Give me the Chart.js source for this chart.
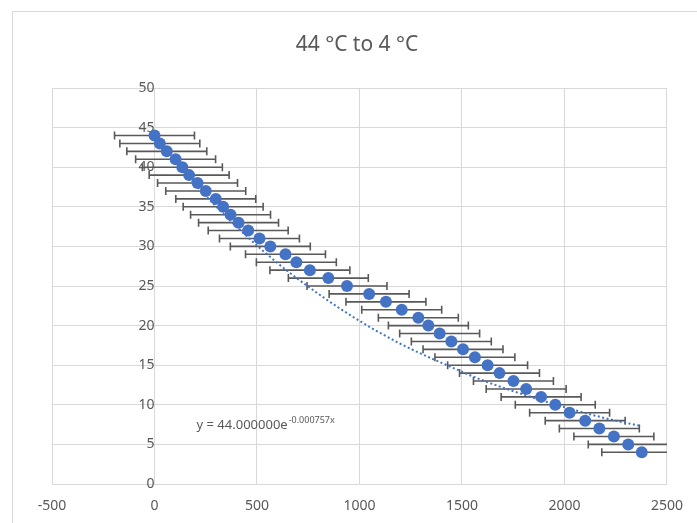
<!DOCTYPE html>
<html>
<head>
<meta charset="utf-8">
<script src="https://cdn.jsdelivr.net/npm/chart.js@4.4.1/dist/chart.umd.min.js"></script>
<style>
  html, body { margin: 0; padding: 0; background: #fff; }
  #wrap { position: relative; width: 697px; height: 523px; overflow: hidden; }
  #frame { position: absolute; left: 12px; top: 11px; width: 800px; height: 600px; border: 1px solid #d9d9d9; }
  canvas { position: absolute; left: 0; top: 0; }
</style>
</head>
<body>
<div id="wrap">
  <div id="frame"></div>
  <canvas id="chart" width="697" height="523"></canvas>
</div>
<script>
// temperature (°C) against time
const tempValues = [44, 43, 42, 41, 40, 39, 38, 37, 36, 35, 34, 33, 32, 31, 30, 29, 28, 27, 26, 25, 24,
  23, 22, 21, 20, 19, 18, 17, 16, 15, 14, 13, 12, 11, 10, 9, 8, 7, 6, 5, 4];
const timeValues = [0, 26, 60, 103, 136, 169, 210, 250, 299, 335, 371, 410, 457, 512, 565, 639, 692, 758, 848, 939, 1047,
  1129, 1206, 1287, 1336, 1391, 1448, 1505, 1563, 1625, 1683, 1751, 1813, 1886, 1955, 2025, 2101, 2170, 2241, 2311, 2377];
const timeError = 195;

// dotted exponential trendline, sampled along the picture
const trendX = [0, 200, 400, 600, 800, 1000, 1200, 1400, 1600, 1800, 2000, 2200, 2377];
const trendY = [44.0, 37.8, 32.5, 27.9, 24.0, 20.6, 17.7, 15.3, 13.1, 11.3, 9.7, 8.3, 7.3];

const xTicks = [-500, 0, 500, 1000, 1500, 2000, 2500];
const yTicks = [0, 5, 10, 15, 20, 25, 30, 35, 40, 45, 50];

const chartTitle = '44 °C to 4 °C';
const equationText = 'y = 44.000000e';
const equationExp = '-0.000757x';

const blue = '#4472C4';
const grey = '#595959';
const gridGrey = '#d9d9d9';
const fontFamily = "'Noto Sans', 'Open Sans', sans-serif";

const errorBars = {
  id: 'errorBars',
  beforeDatasetsDraw(chart) {
    const ctx = chart.ctx;
    const xs = chart.scales.x, ys = chart.scales.y;
    const area = chart.chartArea;
    ctx.save();
    ctx.beginPath();
    ctx.rect(area.left, area.top, area.right - area.left, area.bottom - area.top);
    ctx.clip();
    ctx.strokeStyle = grey;
    ctx.lineWidth = 1.6;
    tempValues.forEach((t, i) => {
      const y = ys.getPixelForValue(t);
      const x1 = xs.getPixelForValue(timeValues[i] - timeError);
      const x2 = xs.getPixelForValue(timeValues[i] + timeError);
      ctx.beginPath();
      ctx.moveTo(x1, y); ctx.lineTo(x2, y);
      ctx.moveTo(x1, y - 4); ctx.lineTo(x1, y + 4);
      ctx.moveTo(x2, y - 4); ctx.lineTo(x2, y + 4);
      ctx.stroke();
    });
    ctx.restore();
  }
};

// title and trendline equation, drawn on the canvas
const chartTexts = {
  id: 'chartTexts',
  afterDatasetsDraw(chart) {
    const ctx = chart.ctx;
    ctx.save();
    ctx.fillStyle = grey;
    ctx.textAlign = 'center';
    ctx.textBaseline = 'middle';
    ctx.font = '21px ' + fontFamily;
    ctx.fillText(chartTitle, 357, 45);

    const x = chart.scales.x.getPixelForValue(205);
    const y = chart.scales.y.getPixelForValue(7.0);
    ctx.textAlign = 'left';
    ctx.textBaseline = 'alphabetic';
    ctx.font = '13px ' + fontFamily;
    ctx.fillText(equationText, x, y);
    const w = ctx.measureText(equationText).width;
    ctx.font = '9px ' + fontFamily;
    ctx.fillText(equationExp, x + w + 1, y - 6);
    ctx.restore();
  }
};

new Chart(document.getElementById('chart'), {
  type: 'scatter',
  data: {
    datasets: [{
      label: 'data',
      data: timeValues.map((t, i) => ({ x: t, y: tempValues[i] })),
      backgroundColor: blue,
      borderWidth: 0,
      pointRadius: 6,
      pointHoverRadius: 6
    }, {
      label: 'trend',
      type: 'line',
      data: trendX.map((t, i) => ({ x: t, y: trendY[i] })),
      borderColor: blue,
      borderWidth: 2,
      borderDash: [2, 2.5],
      pointRadius: 0,
      fill: false,
      tension: 0.4,
      cubicInterpolationMode: 'monotone'
    }]
  },
  options: {
    responsive: false,
    animation: false,
    events: [],
    layout: { padding: { left: 52, right: 17, top: 88, bottom: 0 } },
    plugins: {
      legend: { display: false },
      tooltip: { enabled: false },
      title: { display: false }
    },
    scales: {
      x: {
        type: 'linear',
        min: -500, max: 2500,
        afterBuildTicks: s => { s.ticks = xTicks.map(v => ({ value: v })); },
        afterFit: s => { s.height = 39; },
        grid: { color: gridGrey, drawTicks: false },
        border: { display: false },
        ticks: { color: grey, padding: 14, font: { family: fontFamily, size: 14 }, maxRotation: 0,
          callback: v => String(v) }
      },
      y: {
        type: 'linear',
        position: { x: 0 },
        min: 0, max: 50,
        afterBuildTicks: s => { s.ticks = yTicks.map(v => ({ value: v })); },
        grid: { color: gridGrey, drawTicks: false },
        border: { color: gridGrey },
        ticks: { color: grey, padding: 9, font: { family: fontFamily, size: 14 },
          callback: v => String(v) }
      }
    }
  },
  plugins: [errorBars, chartTexts]
});
</script>
</body>
</html>
